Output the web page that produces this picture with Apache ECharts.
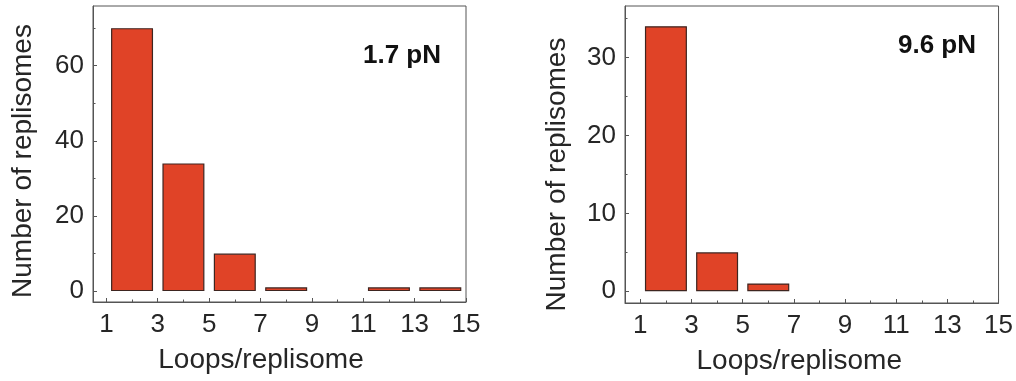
<!DOCTYPE html>
<html><head><meta charset="utf-8">
<script src="https://cdn.jsdelivr.net/npm/echarts@6/dist/echarts.min.js"></script>
<style>html,body{margin:0;padding:0;background:#fff}#c{width:1016px;height:381px}</style>
</head><body><div id="c"></div>
<script>
// ---- data ----
const binEdges = [1, 3, 5, 7, 9, 11, 13, 15];
const counts17 = [70, 34, 10, 1, 0, 1, 1];
const counts96 = [34, 5, 1, 0, 0, 0, 0];
const xTickLabels = [1, 3, 5, 7, 9, 11, 13, 15];
const xMinorTicks = [2, 4, 6, 8, 10, 12, 14];
const yTicks17 = [0, 20, 40, 60];
const yMinor17 = [10, 30, 50, 70];
const yTicks96 = [0, 10, 20, 30];
const yMinor96 = [5, 15, 25, 35];
const panelLabels = ['1.7 pN', '9.6 pN'];
const xTitle = 'Loops/replisome';
const yTitle = 'Number of replisomes';

const FONT = '"Liberation Sans", Arial, Helvetica, sans-serif';
const AX = '#555';
const TXT = '#262626';

function binData(counts) {
  return counts.map((c, i) => {
    const center = (binEdges[i] + binEdges[i + 1]) / 2;
    return c === 0 ? { value: [center, c], itemStyle: { borderWidth: 0 } } : [center, c];
  });
}

const panels = [
  { grid: { left: 93, top: 6, width: 373, height: 296 }, xmin: 0.48, ymin: -2.9, ymax: 75.9,
    yMajor: yTicks17, yMinor: yMinor17, counts: counts17, xPad: [0, 37, 0, 0], yPad: [0, 14, 0, 0], yGap: 56 },
  { grid: { left: 625, top: 6, width: 375, height: 297 }, xmin: 0.4, ymin: -1.5, ymax: 36.6,
    yMajor: yTicks96, yMinor: yMinor96, counts: counts96, xPad: [0, 25, 0, 0], yPad: [0, 40, 0, 0], yGap: 54 }
];

const grid = [], xAxis = [], yAxis = [], series = [];
panels.forEach((p, i) => {
  grid.push(Object.assign({ show: true, borderColor: AX, borderWidth: 1, backgroundColor: 'transparent' }, p.grid));
  const xi = xAxis.length, yi = yAxis.length;
  xAxis.push({
    type: 'value', gridIndex: i, min: p.xmin, max: 15, position: 'bottom',
    axisLine: { show: true, onZero: false, lineStyle: { color: AX, width: 1 } },
    axisTick: { show: true, inside: true, length: 4, customValues: xTickLabels, lineStyle: { color: AX } },
    axisLabel: { show: true, customValues: xTickLabels, margin: 10, fontSize: 26, color: TXT, fontFamily: FONT },
    splitLine: { show: false },
    name: xTitle, nameLocation: 'middle', nameGap: 44,
    nameTextStyle: { fontSize: 28, color: TXT, fontFamily: FONT, padding: p.xPad }
  });
  xAxis.push({
    type: 'value', gridIndex: i, min: p.xmin, max: 15, position: 'bottom',
    axisLine: { show: false, onZero: false },
    axisTick: { show: true, inside: true, length: 2.5, customValues: xMinorTicks, lineStyle: { color: AX } },
    axisLabel: { show: false }, splitLine: { show: false }
  });
  yAxis.push({
    type: 'value', gridIndex: i, min: p.ymin, max: p.ymax, position: 'left',
    axisLine: { show: true, onZero: false, lineStyle: { color: AX, width: 1 } },
    axisTick: { show: true, inside: true, length: 4, customValues: p.yMajor, lineStyle: { color: AX } },
    axisLabel: { show: true, customValues: p.yMajor, margin: 9, fontSize: 26, color: TXT, fontFamily: FONT },
    splitLine: { show: false },
    name: yTitle, nameLocation: 'middle', nameGap: p.yGap,
    nameTextStyle: { fontSize: 28, color: TXT, fontFamily: FONT, padding: p.yPad }
  });
  yAxis.push({
    type: 'value', gridIndex: i, min: p.ymin, max: p.ymax, position: 'left',
    axisLine: { show: false, onZero: false },
    axisTick: { show: true, inside: true, length: 2.5, customValues: p.yMinor, lineStyle: { color: AX } },
    axisLabel: { show: false }, splitLine: { show: false }
  });
  series.push({
    type: 'bar', xAxisIndex: xi, yAxisIndex: yi, barWidth: 42,
    itemStyle: { color: '#E04327', borderColor: '#3e2520', borderWidth: 1.2 },
    data: binData(p.counts), silent: true
  });
});

const chart = echarts.init(document.getElementById('c'), null, { renderer: 'canvas' });
chart.setOption({
  animation: false,
  backgroundColor: '#fff',
  grid, xAxis, yAxis, series,
  graphic: [
    { type: 'text', left: 363, top: 43, style: { text: panelLabels[0], font: 'bold 26px ' + FONT, fill: '#111' } },
    { type: 'text', left: 898, top: 33, style: { text: panelLabels[1], font: 'bold 26px ' + FONT, fill: '#111' } }
  ]
});
</script>
</body></html>
